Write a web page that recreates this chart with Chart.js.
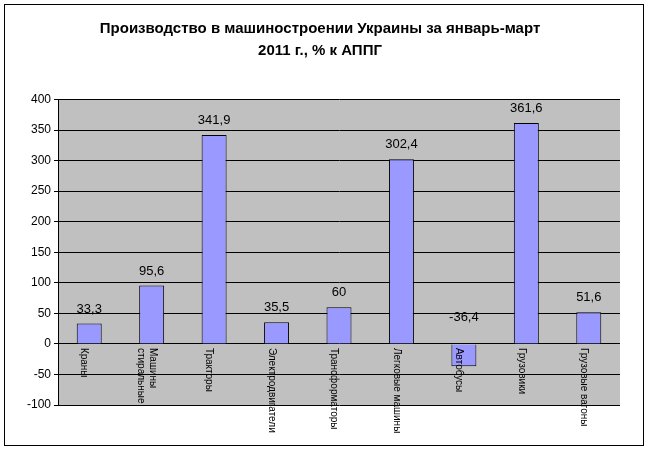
<!DOCTYPE html>
<html><head><meta charset="utf-8">
<script src="https://cdn.jsdelivr.net/npm/chart.js@4"></script>
<style>html,body{margin:0;padding:0;background:#fff}#w{position:absolute;left:4px;top:4px;width:640px;height:442px;border:1px solid #000;box-sizing:border-box}</style>
</head><body><div id="w"></div><canvas id="c" width="650" height="452" style="position:absolute;left:0;top:0"></canvas>
<script>
const categories=[["Краны"],["Машины","стиральные"],["Тракторы"],["Электродвигатели"],["Трансформаторы"],["Легковые машины"],["Автобусы"],["Грузовики"],["Грузовые вагоны"]];
const values=[33.3,95.6,341.9,35.5,60,302.4,-36.4,361.6,51.6];
const valueLabels=["33,3","95,6","341,9","35,5","60","302,4","-36,4","361,6","51,6"];
const F='Arial, "Liberation Sans", sans-serif';
const plug={id:'p',
beforeDraw(ch){const a=ch.chartArea,x=ch.ctx;x.save();x.fillStyle='#C0C0C0';x.fillRect(a.left,a.top,a.right-a.left,a.bottom-a.top);x.restore();},
afterDatasetsDraw(ch){const x=ch.ctx,m=ch.getDatasetMeta(0),ys=ch.scales.y,z=ys.getPixelForValue(0);
x.save();x.fillStyle='#000';x.font='13px '+F;x.textAlign='center';x.textBaseline='bottom';
m.data.forEach((b,i)=>{const top=Math.min(b.y,z);x.fillText(valueLabels[i],b.x,values[i]<0?z-20:top-8);});
x.font='10px '+F;x.textAlign='left';x.textBaseline='middle';
m.data.forEach((b,i)=>{const L=categories[i];L.forEach((t,j)=>{x.save();x.translate(b.x-5+(L.length-1)*6-j*12,z+4);x.rotate(Math.PI/2);x.fillText(t,0,0);x.restore();});});
x.restore();}};
new Chart(document.getElementById('c'),{type:'bar',
data:{labels:categories.map(c=>c.join(' ')),datasets:[{data:values,backgroundColor:'#9999FF',borderColor:'#000',borderWidth:1,barPercentage:0.4,categoryPercentage:1}]},
options:{responsive:false,animation:false,devicePixelRatio:1,
layout:{padding:{left:20,right:30,top:0,bottom:39}},
plugins:{legend:{display:false},tooltip:{enabled:false},
title:{display:true,text:['Производство в машиностроении Украины за январь-март','2011 г., % к АППГ'],color:'#000',font:{family:F,size:15,weight:'bold',lineHeight:1.45},padding:{top:18,bottom:38}}},
scales:{x:{grid:{display:false},border:{display:false},ticks:{display:false}},
y:{min:-100,max:400,ticks:{stepSize:50,color:'#000',font:{family:F,size:12}},grid:{color:'#000',tickLength:4},border:{color:'#000'},afterFit(s){s.width=38;}}}},
plugins:[plug]});
</script></body></html>
